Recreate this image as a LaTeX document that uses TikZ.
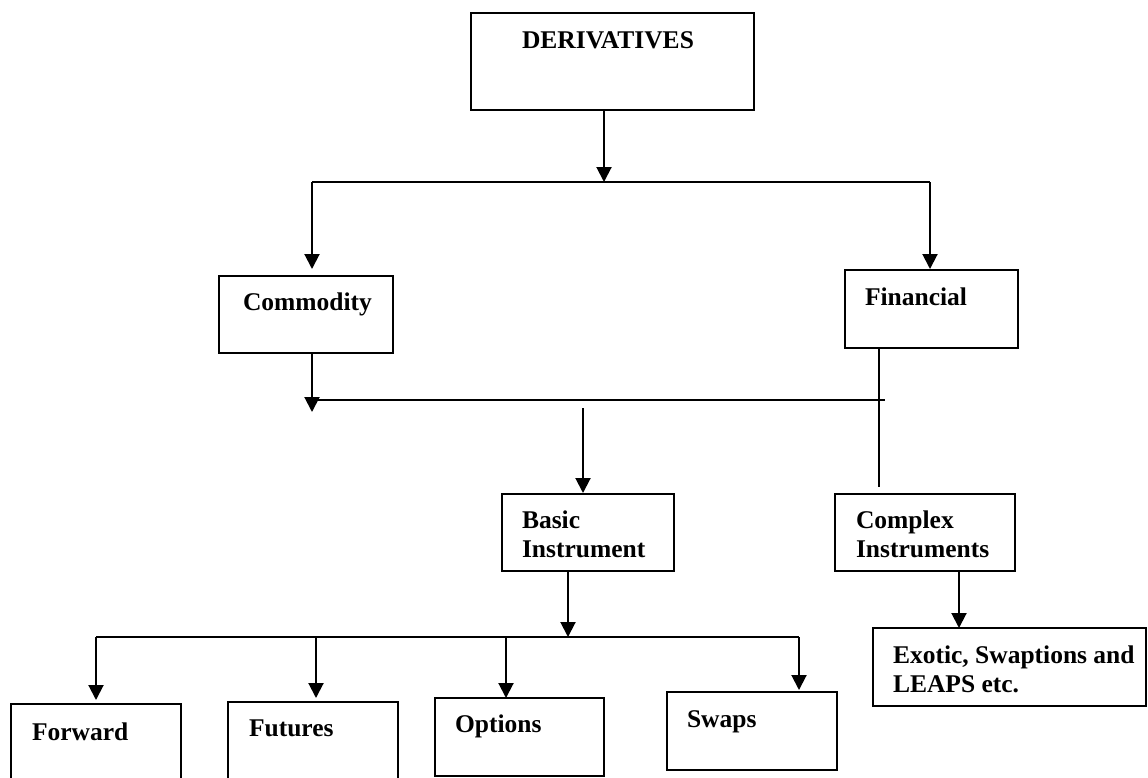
\documentclass[tikz,border=0pt]{standalone}
\usepackage{fontspec}
\setmainfont{Liberation Serif}
\usetikzlibrary{arrows.meta,calc}
\tikzset{
  box/.style={draw=black, line width=2pt, inner sep=0pt, outer sep=0pt, anchor=north west, fill=white},
  lbl/.style={inner sep=0pt, outer sep=0pt, anchor=base west, align=left, font=\fontsize{25.5}{29}\selectfont\bfseries},
  conn/.style={draw=black, line width=2pt},
  thin/.style={draw=black, line width=1.4pt},
  arr/.style={draw=black, line width=2pt, -{Triangle[width=15pt,length=15pt]}}
}
\begin{document}
\begin{tikzpicture}[x=1pt,y=-1pt]
\clip (0,0) rectangle (1148,777);
\fill[white] (0,0) rectangle (1148,777);
% boxes
\node[box, minimum width=283pt, minimum height=97pt] (der) at (471,13) {};
\node[box, minimum width=174pt, minimum height=77pt] (com) at (219,276) {};
\node[box, minimum width=173pt, minimum height=78pt] (fin) at (845,270) {};
\node[box, minimum width=172pt, minimum height=77pt] (basic) at (502,494) {};
\node[box, minimum width=180pt, minimum height=77pt] (complex) at (835,494) {};
\node[box, minimum width=273pt, minimum height=78pt] (exotic) at (873,628) {};
\node[box, minimum width=170pt, minimum height=100pt] (forward) at (11,704) {};
\node[box, minimum width=170pt, minimum height=100pt] (futures) at (228,702) {};
\node[box, minimum width=169pt, minimum height=78pt] (options) at (435,698) {};
\node[box, minimum width=170pt, minimum height=78pt] (swaps) at (667,692) {};
% texts (multi-line nodes: base = baseline of last line)
\node[lbl] (tder) at (522,48) {DERIVATIVES};
\node[lbl] (tcom) at (243,310) {Commodity};
\node[lbl] (tfin) at (865,305) {Financial};
\node[lbl] (tbasic) at (522,557) {Basic\\Instrument};
\node[lbl] (tcomplex) at (856,557) {Complex\\Instruments};
\node[lbl] (texotic) at (893,692) {Exotic, Swaptions and\\LEAPS etc.};
\node[lbl] (tforward) at (32,740) {Forward};
\node[lbl] (tfutures) at (249,736) {Futures};
\node[lbl] (toptions) at (455,732) {Options};
\node[lbl] (tswaps) at (687,727) {Swaps};
% junction coordinates
\coordinate (dj) at (604,182);
\coordinate (tl) at (312,182);
\coordinate (tr) at (930,182);
\coordinate (cd) at (312,412);
\coordinate (ml) at (313,400);
\coordinate (mr) at (885,400);
\coordinate (fl) at (879,487);
\coordinate (bt) at (583,408);
\coordinate (bj) at (568,637);
\coordinate (bl) at (96,637);
\coordinate (f2) at (316,637);
\coordinate (f3) at (506,637);
\coordinate (br) at (799,637);
\coordinate (cx) at (959,600);
% connectors
\draw[arr] (der.south -| dj) -- (dj);
\draw[conn] (tl) -- (tr);
\draw[arr, shorten >=7pt] (tl) -- (tl |- com.north);
\draw[arr, shorten >=1pt] (tr) -- (tr |- fin.north);
\draw[arr] (com.south -| cd) -- (cd);
\draw[conn] (ml) -- (mr);
\draw[thin] (fin.south -| fl) -- (fl);
\draw[arr, shorten >=1pt] (bt) -- (bt |- basic.north);
\draw[arr] (basic.south -| bj) -- (bj);
\draw[conn] (bl) -- (br);
\draw[arr, shorten >=4pt] (bl) -- (bl |- forward.north);
\draw[arr, shorten >=4pt] (f2) -- (f2 |- futures.north);
\draw[arr] (f3) -- (f3 |- options.north);
\draw[arr, shorten >=2pt] (br) -- (br |- swaps.north);
\draw[arr] (complex.south -| cx) -- (exotic.north -| cx);
\end{tikzpicture}
\end{document}
